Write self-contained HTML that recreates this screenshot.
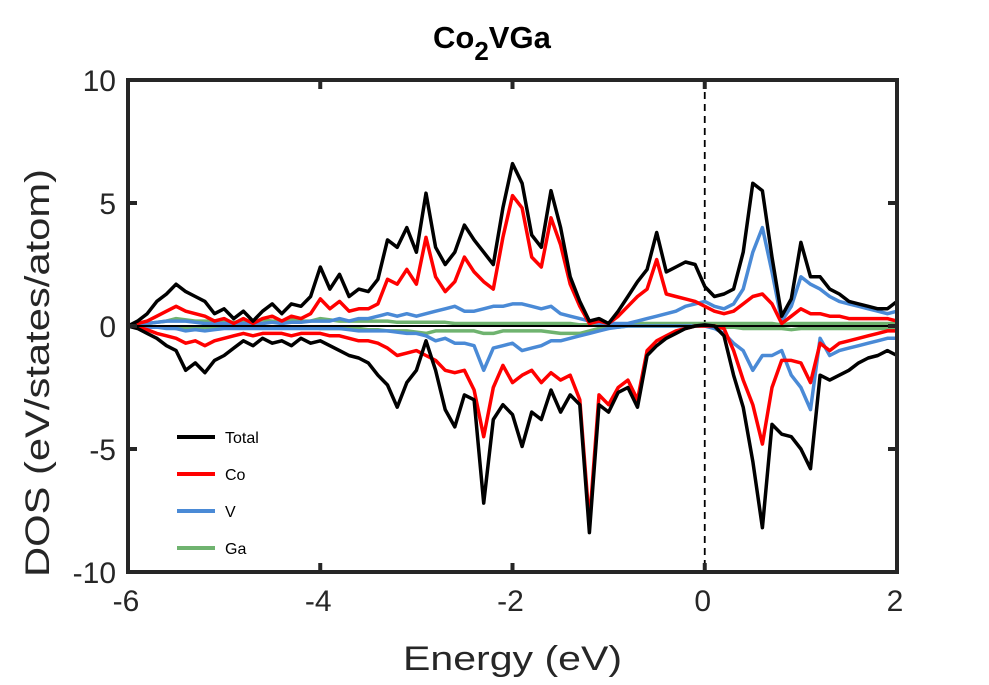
<!DOCTYPE html>
<html><head><meta charset="utf-8"><style>
html,body{margin:0;padding:0;background:#fff;}
svg{display:block;font-family:"Liberation Sans",Arial,sans-serif;}
</style></head><body>
<svg id="chart" width="989" height="685" viewBox="0 0 989 685">
<text x="433" y="48" font-size="31" font-weight="bold" fill="#000">Co<tspan font-size="26" dy="12">2</tspan><tspan font-size="31" dy="-12">VGa</tspan></text>
<g id="plot"></g>
<text x="403" y="670" font-size="34" textLength="219" lengthAdjust="spacingAndGlyphs" fill="#262626">Energy (eV)</text>
<text transform="translate(49,577) rotate(-90)" font-size="34" textLength="408" lengthAdjust="spacingAndGlyphs" fill="#262626">DOS (eV/states/atom)</text>
</svg>
<script>
const energies = [];
for (let i = 0; i <= 80; i++) energies.push(-6 + i * 0.1);
const totalUp = [0,0.2,0.5,1.0,1.3,1.7,1.4,1.2,1.0,0.5,0.7,0.3,0.6,0.2,0.6,0.9,0.5,0.9,0.8,1.2,2.4,1.5,2.1,1.2,1.5,1.4,1.9,3.5,3.2,4.0,3.0,5.4,3.2,2.5,3.0,4.1,3.5,3.0,2.5,4.8,6.6,5.8,3.7,3.2,5.5,4.0,2.0,1.0,0.2,0.3,0.1,0.6,1.2,1.8,2.3,3.8,2.2,2.4,2.6,2.5,1.6,1.2,1.3,1.5,3.0,5.8,5.5,2.8,0.4,1.1,3.4,2.0,2.0,1.5,1.3,1.0,0.9,0.8,0.7,0.7,1.0];
const coUp = [0,0.1,0.2,0.4,0.6,0.8,0.6,0.5,0.4,0.2,0.3,0.1,0.3,0.1,0.3,0.4,0.2,0.4,0.3,0.5,1.1,0.7,1.0,0.6,0.7,0.7,0.9,1.9,1.7,2.3,1.7,3.6,2.0,1.4,1.8,2.8,2.2,1.8,1.5,3.6,5.3,4.8,2.8,2.4,4.4,3.3,1.7,0.8,0.1,0.2,0.1,0.4,0.8,1.2,1.5,2.7,1.3,1.2,1.1,1.0,0.8,0.6,0.5,0.6,0.9,1.2,1.3,0.9,0.1,0.4,0.7,0.5,0.5,0.4,0.4,0.3,0.3,0.3,0.3,0.3,0.2];
const vUp = [0,0.05,0.1,0.15,0.2,0.2,0.2,0.15,0.1,0.1,0.1,0.1,0.1,0.1,0.1,0.15,0.1,0.15,0.15,0.2,0.2,0.2,0.3,0.2,0.3,0.3,0.4,0.5,0.4,0.5,0.4,0.5,0.6,0.7,0.8,0.6,0.6,0.7,0.8,0.8,0.9,0.9,0.8,0.7,0.8,0.5,0.4,0.3,0.2,0.1,0.1,0.1,0.1,0.2,0.3,0.4,0.5,0.6,0.8,0.9,1.0,0.8,0.7,0.9,1.5,3.0,4.0,2.2,0.2,0.8,2.0,1.7,1.5,1.2,1.0,0.9,0.8,0.7,0.6,0.5,0.6];
const gaUp = [0,0.05,0.1,0.15,0.2,0.3,0.25,0.2,0.2,0.2,0.2,0.15,0.2,0.2,0.25,0.2,0.2,0.25,0.2,0.2,0.3,0.25,0.2,0.2,0.2,0.2,0.2,0.2,0.15,0.15,0.15,0.15,0.15,0.15,0.1,0.1,0.1,0.1,0.1,0.1,0.1,0.1,0.1,0.1,0.1,0.1,0.1,0.05,0.05,0.05,0.05,0.05,0.05,0.1,0.1,0.1,0.1,0.1,0.1,0.1,0.1,0.1,0.1,0.1,0.1,0.1,0.1,0.1,0.05,0.1,0.1,0.1,0.1,0.1,0.1,0.1,0.1,0.1,0.1,0.1,0.1];
const totalDn = [0,-0.1,-0.3,-0.5,-0.8,-1.0,-1.8,-1.5,-1.9,-1.4,-1.2,-0.9,-0.6,-0.8,-0.5,-0.7,-0.6,-0.8,-0.5,-0.7,-0.6,-0.8,-1.0,-1.2,-1.3,-1.5,-2.0,-2.4,-3.3,-2.3,-1.8,-0.6,-1.8,-3.4,-4.1,-2.8,-3.0,-7.2,-3.8,-3.2,-3.6,-4.9,-3.5,-3.8,-2.6,-3.5,-2.8,-3.2,-8.4,-3.2,-3.5,-2.7,-2.5,-3.3,-1.2,-0.8,-0.5,-0.3,-0.1,0,0.05,0,-0.4,-2.0,-3.3,-5.5,-8.2,-4.0,-4.4,-4.5,-5.0,-5.8,-2.0,-2.2,-2.0,-1.8,-1.5,-1.3,-1.2,-1.0,-1.2];
const coDn = [0,-0.05,-0.15,-0.3,-0.4,-0.5,-0.7,-0.6,-0.8,-0.6,-0.5,-0.4,-0.3,-0.4,-0.3,-0.3,-0.3,-0.4,-0.3,-0.3,-0.3,-0.4,-0.4,-0.5,-0.6,-0.6,-0.7,-0.9,-1.2,-1.1,-1.0,-1.2,-1.4,-1.8,-1.9,-1.8,-2.6,-4.5,-2.5,-1.6,-2.3,-2.0,-1.8,-2.3,-1.9,-2.2,-2.0,-3.0,-8.0,-2.8,-3.2,-2.5,-2.2,-3.0,-1.0,-0.6,-0.4,-0.2,-0.1,0,0,0,-0.1,-1.0,-2.2,-3.2,-4.8,-2.5,-1.4,-1.4,-1.5,-2.3,-0.7,-1.0,-0.7,-0.6,-0.5,-0.4,-0.3,-0.2,-0.2];
const vDn = [0,0,-0.05,-0.05,-0.1,-0.1,-0.2,-0.15,-0.2,-0.15,-0.1,-0.1,-0.1,-0.1,-0.1,-0.1,-0.1,-0.1,-0.1,-0.1,-0.1,-0.1,-0.1,-0.15,-0.2,-0.2,-0.2,-0.2,-0.25,-0.3,-0.3,-0.4,-0.6,-0.5,-0.7,-0.7,-0.8,-1.8,-0.9,-0.8,-0.7,-1.0,-0.9,-0.8,-0.6,-0.6,-0.5,-0.4,-0.3,-0.2,-0.1,-0.05,0,0,0,0,0,0,0,0,0,-0.1,-0.3,-0.7,-1.0,-1.8,-1.2,-1.2,-1.0,-2.0,-2.5,-3.4,-0.5,-1.2,-1.0,-0.9,-0.8,-0.7,-0.6,-0.5,-0.5];
const gaDn = [0,0,-0.05,-0.05,-0.05,-0.1,-0.1,-0.1,-0.05,-0.05,-0.05,-0.05,-0.05,-0.05,-0.05,-0.05,-0.05,-0.05,-0.05,-0.05,-0.1,-0.1,-0.1,-0.1,-0.1,-0.15,-0.15,-0.2,-0.2,-0.2,-0.25,-0.3,-0.2,-0.2,-0.2,-0.2,-0.2,-0.3,-0.3,-0.2,-0.2,-0.2,-0.2,-0.2,-0.25,-0.3,-0.3,-0.3,-0.2,-0.1,-0.05,-0.05,0,0,0,0,0,0,0,0,0,-0.05,-0.05,-0.05,-0.1,-0.1,-0.1,-0.1,-0.1,-0.15,-0.1,-0.1,-0.1,-0.1,-0.1,-0.1,-0.1,-0.1,-0.1,-0.1,-0.1];
const xTicks = [-6,-4,-2,0,2];
const yTicks = [-10,-5,0,5,10];
const legendLabels = ['Total','Co','V','Ga'];
const colors = {Total:'#000000',Co:'#ff0000',V:'#4a8ad6',Ga:'#6fb36f'};

const X0=128,X1=897,Y0=80,Y1=572;
const xScale = e => X0 + (e + 6) / 8 * (X1 - X0);
const yScale = v => Y1 - (v + 10) / 20 * (Y1 - Y0);
const NS='http://www.w3.org/2000/svg';
const plot=document.getElementById('plot');
function mk(tag, attrs, parent){const el=document.createElementNS(NS,tag);for(const k in attrs)el.setAttribute(k,attrs[k]);(parent||plot).appendChild(el);return el;}

let fl=mk('line',{x1:xScale(0),x2:xScale(0),y1:Y0,y2:Y1,stroke:'#000','stroke-width':1.8,'stroke-dasharray':'7,5'});



const series=[['Ga','up',gaUp],['Ga','dn',gaDn],['V','up',vUp],['V','dn',vDn],['Co','up',coUp],['Co','dn',coDn],['Total','up',totalUp],['Total','dn',totalDn]];
series.forEach(s=>{
  const d=s[2].map((v,i)=>(i?'L':'M')+xScale(energies[i]).toFixed(1)+','+yScale(v).toFixed(1)).join('');
  const p=mk('path',{d:d,fill:'none',stroke:colors[s[0]],'stroke-width':3.5,'stroke-linejoin':'round'});
  
  
});
let zl=mk('line',{x1:X0,x2:X1,y1:yScale(0),y2:yScale(0),stroke:'#000','stroke-width':2});



let box=mk('rect',{x:X0,y:Y0,width:X1-X0,height:Y1-Y0,fill:'none',stroke:'#262626','stroke-width':4});


xTicks.forEach(t=>{
  const x=xScale(t);
  mk('line',{x1:x,x2:x,y1:Y1,y2:Y1-9,stroke:'#262626','stroke-width':4});
  mk('line',{x1:x,x2:x,y1:Y0,y2:Y0+9,stroke:'#262626','stroke-width':4});
  const tx=mk('text',{x:x-2,y:Y1+39,'text-anchor':'middle','font-size':30,fill:'#262626'});
  tx.textContent=t;
  
  
});
yTicks.forEach(t=>{
  const y=yScale(t);
  mk('line',{x1:X0,x2:X0+9,y1:y,y2:y,stroke:'#262626','stroke-width':4});
  mk('line',{x1:X1,x2:X1-9,y1:y,y2:y,stroke:'#262626','stroke-width':4});
  const ty=mk('text',{x:X0-12,y:y+11,'text-anchor':'end','font-size':30,fill:'#262626'});
  ty.textContent=t;
  
  
});
legendLabels.forEach((l,i)=>{
  const y=437+i*37;
  const g=mk('g',{});
  
  
  mk('line',{x1:177,x2:215,y1:y,y2:y,stroke:colors[l],'stroke-width':4},g);
  const t=mk('text',{x:225,y:y+6,'font-size':16,fill:'#000'},g);
  t.textContent=l;
});
</script>
</body></html>
